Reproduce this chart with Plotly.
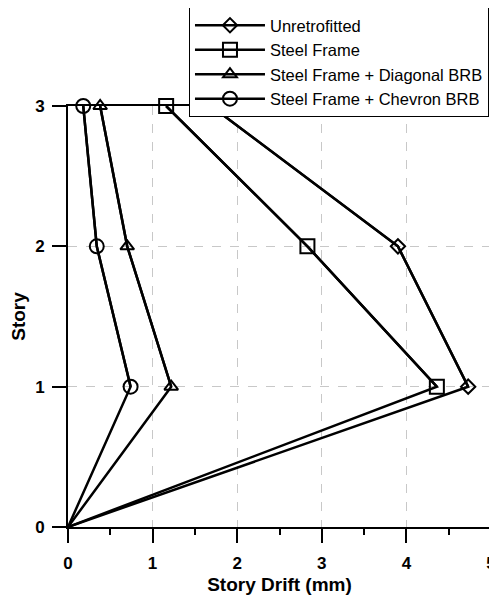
import plotly.graph_objects as go

stories = [0, 1, 2, 3]
unretrofitted = [0, 4.73, 3.90, 1.69]
steel_frame = [0, 4.36, 2.83, 1.16]
diagonal_brb = [0, 1.22, 0.70, 0.38]
chevron_brb = [0, 0.74, 0.34, 0.18]
x_ticks = [0, 1, 2, 3, 4, 5]
y_ticks = [0, 1, 2, 3]

series = [
    ("Unretrofitted", unretrofitted, "diamond-open", 11),
    ("Steel Frame", steel_frame, "square-open", 14),
    ("Steel Frame + Diagonal BRB", diagonal_brb, "triangle-up-open", 12),
    ("Steel Frame + Chevron BRB", chevron_brb, "circle-open", 14),
]

FONT = "Liberation Sans, Arial, sans-serif"
fig = go.Figure()
for name, vals, sym, sz in series:
    # segment from origin (no marker)
    fig.add_trace(go.Scatter(x=vals, y=stories, mode="lines",
                             line=dict(color="black", width=2.5),
                             showlegend=False, hoverinfo="skip", cliponaxis=False))
    fig.add_trace(go.Scatter(x=vals[1:], y=stories[1:], mode="lines+markers", name=name,
                             line=dict(color="black", width=2.5),
                             marker=dict(symbol=sym, size=sz, color="black",
                                         line=dict(color="black", width=2)),
                             cliponaxis=False))

axis_common = dict(
    showline=True, linecolor="black", linewidth=2, mirror=True,
    ticks="outside", ticklen=14, tickwidth=2, tickcolor="black",
    showgrid=True, gridcolor="#c8c8c8", griddash="dash", gridwidth=1,
    zeroline=False, automargin=False, ticklabeloverflow="allow",
    tickfont=dict(family=FONT, size=17, color="black"),
)
fig.update_xaxes(range=[0, 5], tickvals=x_ticks, ticktext=[f"<b>{t}</b>" for t in x_ticks],
                 ticklabelstandoff=6,
                 minor=dict(ticks="outside", ticklen=6, tickwidth=2, tickcolor="black", dtick=0.5, showgrid=False),
                 title=dict(text="<b>Story Drift (mm)</b>", font=dict(family=FONT, size=19, color="black"), standoff=5),
                 **axis_common)
fig.update_yaxes(range=[0, 3], tickvals=y_ticks, ticktext=[f"<b>{t}</b>" for t in y_ticks],
                 ticklabelstandoff=4,
                 title=dict(text="<b>Story</b>", font=dict(family=FONT, size=19, color="black"), standoff=8),
                 **axis_common)

fig.update_layout(
    width=489, height=587,
    margin=dict(l=60, r=6, t=98, b=68, autoexpand=False),
    paper_bgcolor="white", plot_bgcolor="white",
    font=dict(family=FONT, color="black"),
    legend=dict(x=0.286, y=1.235, xanchor="left", yanchor="top",
                bgcolor="white", bordercolor="black", borderwidth=1,
                font=dict(family=FONT, size=16.5, color="black"),
                itemwidth=70, tracegroupgap=0),
    showlegend=True,
)
fig.write_html("out.html")
